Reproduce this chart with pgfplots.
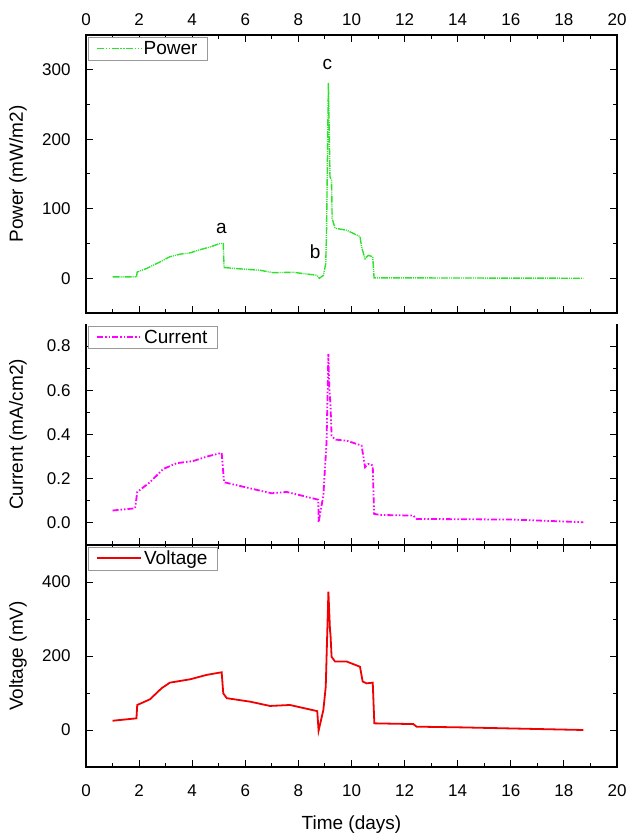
\documentclass[border=0pt]{standalone}
\usepackage{pgfplots}
\pgfplotsset{compat=1.18}
\usepackage{fontspec}
\setmainfont{Liberation Sans}
\definecolor{pgreen}{RGB}{45,225,45}
\definecolor{cmag}{RGB}{255,0,255}
\definecolor{vred}{RGB}{240,0,0}
\pgfplotsset{
  panel/.style={
    scale only axis, width=531pt, xmin=0, xmax=20,
    xtick={0,2,...,20}, minor x tick num=1, minor y tick num=1,
    tick align=inside, major tick length=7pt, minor tick length=4pt,
    every tick/.style={black, line width=1pt},
    axis line style={line width=1.1pt},
    /pgf/number format/assume math mode=true,
    tick label style={font=\fontsize{17}{19}\selectfont},
    yticklabel style={xshift=-12pt},
    every axis y label/.style={at={(axis description cs:-0.128,0.5)}, rotate=90, anchor=center, font=\fontsize{19}{21}\selectfont},
    every axis x label/.style={at={(axis description cs:0.5,0)}, anchor=north, yshift=-45pt, font=\fontsize{19}{21}\selectfont},
    legend style={at={(axis description cs:0.004,0.993)}, anchor=north west, draw=gray!80,
      font=\fontsize{19}{21}\selectfont, inner xsep=8pt, inner ysep=2pt},
  }
}
\begin{document}
\begin{tikzpicture}
\path[use as bounding box] (-86pt,-68pt) rectangle (548pt,767pt);
% Top panel: power
\begin{axis}[panel, at={(0pt,454pt)}, anchor=south west, height=278pt,
  ymin=-50, ymax=350, ytick={0,100,200,300},
  xticklabel pos=upper, xticklabel style={yshift=6pt}, ylabel={Power (mW/m2)},
  legend image code/.code={\draw[pgreen, line width=1.4pt, dash pattern=on 7pt off 1.5pt on 1.5pt off 1.5pt on 1.5pt off 1.5pt] (0pt,0pt) -- (44pt,0pt);}]
\addplot[pgreen, line width=1.4pt, dash pattern=on 7pt off 1pt on 1pt off 1pt on 1pt off 1pt] coordinates {
(1.0,2) (1.9,2) (1.93,9) (2.28,14) (2.79,23.5) (3.16,31) (3.54,34.6) (3.92,36.5)
(4.29,41) (4.67,45) (5.05,50) (5.17,50) (5.2,15.4) (5.8,13.5) (6.55,11.5) (7.05,8)
(7.8,8.6) (8.69,4.3) (8.79,0) (8.94,4) (9.03,21) (9.06,69) (9.13,281) (9.19,146)
(9.25,141) (9.27,86) (9.38,72) (9.82,69) (10.32,60) (10.38,45) (10.51,28) (10.63,33)
(10.8,31) (10.85,0.5) (12,0.5) (18.73,0)
};
\addlegendentry{Power}
\node[font=\fontsize{19}{21}\selectfont] at (axis cs:5.1,72) {a};
\node[font=\fontsize{19}{21}\selectfont] at (axis cs:8.63,38) {b};
\node[font=\fontsize{19}{21}\selectfont] at (axis cs:9.09,307) {c};
\end{axis}
% Middle panel: current
\begin{axis}[panel, at={(0pt,222pt)}, anchor=south west, height=221pt,
  axis x line*=bottom, xticklabels={},
  ymin=-0.1, ymax=0.9, ytick={0,0.2,0.4,0.6,0.8},
  yticklabel style={/pgf/number format/fixed, /pgf/number format/fixed zerofill, /pgf/number format/precision=1},
  ylabel={Current (mA/cm2)},
  legend image code/.code={\draw[cmag, line width=1.8pt, dash pattern=on 6pt off 2pt on 1.5pt off 2pt on 1.5pt off 2pt] (0pt,0pt) -- (44pt,0pt);}]
\addplot[cmag, line width=1.8pt, dash pattern=on 6pt off 2pt on 1.5pt off 2pt on 1.5pt off 2pt] coordinates {
(1.0,0.056) (1.85,0.066) (1.93,0.14) (2.41,0.184) (2.91,0.244) (3.41,0.27) (4.04,0.28)
(4.55,0.30) (5.11,0.317) (5.2,0.184) (6.05,0.16) (6.99,0.134) (7.56,0.14) (8.75,0.105)
(8.76,0.003) (8.94,0.124) (9.06,0.365) (9.13,0.765) (9.16,0.62) (9.21,0.53) (9.25,0.395)
(9.38,0.377) (9.82,0.372) (10.38,0.35) (10.51,0.252) (10.63,0.267) (10.8,0.26)
(10.85,0.041) (11.07,0.036) (12.33,0.033) (12.45,0.018) (16.1,0.015) (18.73,0.003)
};
\addlegendentry{Current}
\end{axis}
% Bottom panel: voltage
\begin{axis}[panel, at={(0pt,0pt)}, anchor=south west, height=222pt,
  ymin=-100, ymax=500, ytick={0,200,400},
  xticklabel style={yshift=-14pt},
  xlabel={Time (days)}, ylabel={Voltage (mV)},
  legend image code/.code={\draw[vred, line width=1.8pt] (0pt,0pt) -- (44pt,0pt);}]
\addplot[vred, line width=1.8pt] coordinates {
(1.0,25) (1.9,31.5) (1.93,67.6) (2.41,83) (2.85,113) (3.16,128) (3.92,137) (4.55,149)
(5.11,156) (5.17,99) (5.3,86) (6.18,76.6) (6.93,65) (7.68,67.6) (8.71,51) (8.76,-2)
(8.94,54) (9.03,117) (9.13,374) (9.19,270) (9.21,257) (9.25,198) (9.38,185) (9.82,185)
(10.32,171) (10.42,131) (10.57,126) (10.8,128) (10.86,18) (12.33,16) (12.45,9) (14.2,7)
(18.73,0)
};
\addlegendentry{Voltage}
\end{axis}
\end{tikzpicture}
\end{document}
